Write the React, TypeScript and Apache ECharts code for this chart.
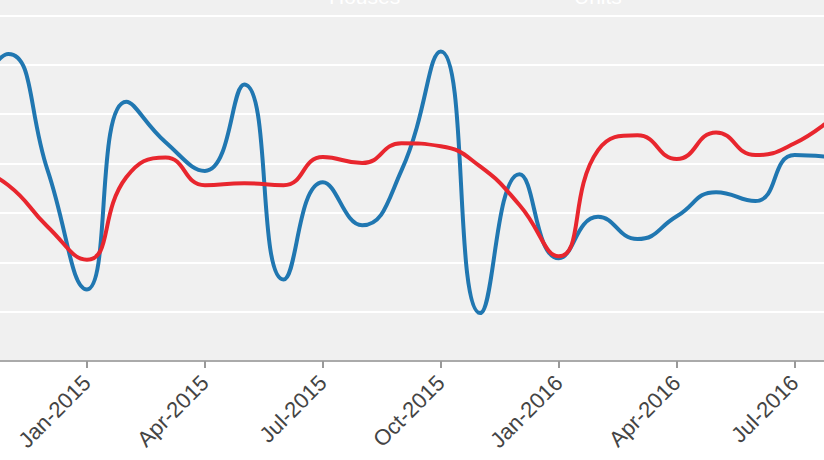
import React, { useEffect, useRef } from "react";
import * as echarts from "echarts";

const months = [
  "Oct-2014", "Nov-2014", "Dec-2014",
  "Jan-2015", "Feb-2015", "Mar-2015", "Apr-2015", "May-2015", "Jun-2015",
  "Jul-2015", "Aug-2015", "Sep-2015", "Oct-2015", "Nov-2015", "Dec-2015",
  "Jan-2016", "Feb-2016", "Mar-2016", "Apr-2016", "May-2016", "Jun-2016",
  "Jul-2016", "Aug-2016",
];

const housesValues = [
  5.1, 6.22, 3.86, 1.45, 5.25, 4.43, 3.85, 5.6, 1.65, 3.62, 2.75, 3.86, 6.27,
  0.97, 3.78, 2.08, 2.92, 2.47, 2.93, 3.42, 3.24, 4.17, 4.12,
];

const unitsValues = [
  3.97, 3.56, 2.72, 2.05, 3.72, 4.12, 3.56, 3.6, 3.56, 4.13, 4.01, 4.41, 4.35,
  3.94, 3.16, 2.12, 4.27, 4.57, 4.09, 4.63, 4.17, 4.41, 4.95,
];

const quarterStarts = ["Jan", "Apr", "Jul", "Oct"];
const showQuarter = (index: number) =>
  quarterStarts.includes(months[index].slice(0, 3));

export default function App() {
  const ref = useRef<HTMLDivElement>(null);

  useEffect(() => {
    document.body.style.margin = "0";
    if (!ref.current) return;
    const chart = echarts.init(ref.current, null, { renderer: "svg" });
    const font = "'Liberation Sans', Arial, sans-serif";
    chart.setOption({
      animation: false,
      backgroundColor: "#ffffff",
      textStyle: { fontFamily: font },
      legend: [
        {
          data: ["Houses"],
          left: 318,
          top: -19,
          itemWidth: 0,
          itemHeight: 0,
          textStyle: { color: "#ffffff", fontSize: 21, fontFamily: font },
        },
        {
          data: ["Units"],
          left: 563,
          top: -19,
          itemWidth: 0,
          itemHeight: 0,
          textStyle: { color: "#ffffff", fontSize: 21, fontFamily: font },
        },
      ],
      grid: {
        left: -31,
        right: -10,
        top: -34,
        bottom: 99,
        show: true,
        backgroundColor: "#f0f0f0",
        borderWidth: 0,
        containLabel: false,
        outerBoundsMode: "none",
      },
      xAxis: {
        type: "category",
        data: months,
        boundaryGap: false,
        axisLine: { show: true, lineStyle: { color: "#aaaaaa", width: 2 } },
        axisTick: {
          show: true,
          interval: (i: number) => showQuarter(i),
          length: 7,
          lineStyle: { color: "#999999", width: 2 },
        },
        axisLabel: {
          interval: (i: number) => i > 0 && showQuarter(i),
          rotate: 45,
          margin: 18,
          fontSize: 22,
          color: "#444444",
          fontFamily: font,
        },
        splitLine: { show: false },
      },
      yAxis: {
        type: "value",
        min: 0,
        max: 8,
        interval: 1,
        axisLine: { show: false },
        axisTick: { show: false },
        axisLabel: { show: false },
        splitLine: { show: true, lineStyle: { color: "#ffffff", width: 2 } },
      },
      series: [
        {
          name: "Houses",
          type: "line",
          data: housesValues,
          smooth: true,
          symbol: "none",
          lineStyle: { color: "#2077b1", width: 4 },
          itemStyle: { color: "#2077b1" },
        },
        {
          name: "Units",
          type: "line",
          data: unitsValues,
          smooth: true,
          symbol: "none",
          lineStyle: { color: "#e8262e", width: 4 },
          itemStyle: { color: "#e8262e" },
        },
      ],
    });
    return () => chart.dispose();
  }, []);

  return <div ref={ref} style={{ width: 824, height: 460 }} />;
}
